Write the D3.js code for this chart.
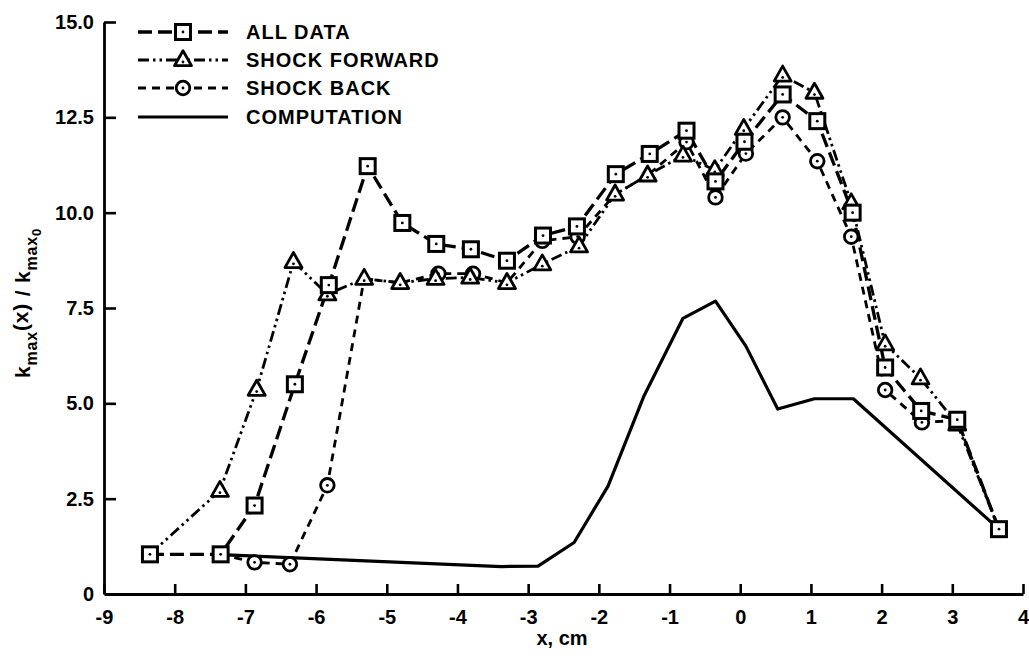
<!DOCTYPE html>
<html>
<head>
<meta charset="utf-8">
<script src="https://cdn.jsdelivr.net/npm/d3@7"></script>
<style>
  html, body { margin: 0; padding: 0; background: #fff; }
  svg { display: block; font-family: "Liberation Sans", Arial, Helvetica, sans-serif; font-weight: bold; }
</style>
</head>
<body>
<svg id="chart" width="1029" height="656"></svg>
<script>
// Normalised maximum turbulent kinetic energy along the model, cm
const allDataX = [-8.35, -7.35, -6.87, -6.30, -5.82, -5.27, -4.78, -4.30, -3.81, -3.30, -2.79, -2.31,
                  -1.76, -1.28, -0.76, -0.35, 0.06, 0.60, 1.09, 1.59, 2.05, 2.56, 3.07, 3.66];
const allDataY = [1.04, 1.04, 2.32, 5.50, 8.10, 11.22, 9.73, 9.18, 9.04, 8.74, 9.40, 9.64,
                  11.01, 11.54, 12.15, 10.82, 11.86, 13.10, 12.40, 10.00, 5.94, 4.80, 4.57, 1.70];

const shockFwdX = [-8.35, -7.36, -6.84, -6.32, -5.84, -5.32, -4.81, -4.31, -3.82, -3.30, -2.80, -2.28,
                   -1.77, -1.31, -0.81, -0.36, 0.05, 0.60, 1.05, 1.57, 2.05, 2.55, 3.07, 3.66];
const shockFwdY = [1.04, 2.71, 5.36, 8.71, 7.86, 8.27, 8.16, 8.27, 8.30, 8.16, 8.65, 9.12,
                   10.48, 10.98, 11.50, 11.12, 12.20, 13.60, 13.15, 10.25, 6.55, 5.66, 4.45, 1.70];
// first and last readings are shared with the full data set
const shockFwdMarked = [false, true, true, true, true, true, true, true, true, true, true, true,
                        true, true, true, true, true, true, true, true, true, true, true, false];

const shockBackX = [-7.35, -6.87, -6.37, -5.84, -5.32, -4.81, -4.27, -3.78, -3.30, -2.80, -2.30,
                    -1.77, -1.31, -0.76, -0.35, 0.08, 0.60, 1.09, 1.57, 2.05, 2.57, 3.07, 3.66];
const shockBackY = [1.04, 0.83, 0.78, 2.85, 8.27, 8.16, 8.40, 8.40, 8.16, 9.26, 9.37,
                    10.48, 10.98, 11.85, 10.40, 11.55, 12.50, 11.35, 9.37, 5.35, 4.50, 4.55, 1.70];
const shockBackMarked = [false, true, true, true, false, false, true, true, false, true, true,
                         false, false, true, true, true, true, true, true, true, true, false, false];

const computationX = [-7.35, -3.38, -2.86, -2.35, -1.87, -1.36, -0.81, -0.35, 0.08, 0.53, 1.05, 1.60, 3.66];
const computationY = [1.03, 0.72, 0.73, 1.35, 2.83, 5.20, 7.23, 7.68, 6.50, 4.85, 5.12, 5.12, 1.70];

const xTicks = [-9, -8, -7, -6, -5, -4, -3, -2, -1, 0, 1, 2, 3, 4];
const xTickLabels = ["-9", "-8", "-7", "-6", "-5", "-4", "-3", "-2", "-1", "0", "1", "2", "3", "4"];
const yTicks = [0, 2.5, 5, 7.5, 10, 12.5, 15];
const yTickLabels = ["0", "2.5", "5.0", "7.5", "10.0", "12.5", "15.0"];
const seriesNames = ["ALL DATA", "SHOCK FORWARD", "SHOCK BACK", "COMPUTATION"];

const zip = (xs, ys) => xs.map((x, i) => ({ x, y: ys[i], i }));

const svg = d3.select("#chart");
const plot = { left: 104, right: 1023, top: 22, bottom: 594 };

const x = d3.scaleLinear().domain([-9, 4]).range([plot.left, plot.right]);
const y = d3.scaleLinear().domain([0, 15]).range([plot.bottom, plot.top]);

svg.append("rect").attr("width", 1029).attr("height", 656).attr("fill", "#fff");

// ---- axes ----
const xAxis = d3.axisBottom(x).tickValues(xTicks)
  .tickFormat((d, i) => xTickLabels[i]).tickSizeInner(-10).tickSizeOuter(0).tickPadding(16);
const gx = svg.append("g").attr("transform", `translate(0,${plot.bottom})`).call(xAxis);
gx.select(".domain").attr("stroke", "#000").attr("stroke-width", 2.8);
gx.selectAll(".tick line").attr("stroke", "#000").attr("stroke-width", 2.6);
gx.selectAll(".tick text").attr("fill", "#000").attr("font-size", 20).attr("font-weight", "bold")
  .attr("font-family", "Liberation Sans, Arial, sans-serif");

const yAxis = d3.axisLeft(y).tickValues(yTicks)
  .tickFormat((d, i) => yTickLabels[i]).tickSizeInner(-12).tickSizeOuter(0).tickPadding(10);
const gy = svg.append("g").attr("transform", `translate(${plot.left},0)`).call(yAxis);
gy.select(".domain").attr("stroke", "#000").attr("stroke-width", 2.8);
gy.selectAll(".tick line").attr("stroke", "#000").attr("stroke-width", 2.6);
gy.selectAll(".tick text").attr("fill", "#000").attr("font-size", 20).attr("font-weight", "bold")
  .attr("font-family", "Liberation Sans, Arial, sans-serif");
gy.selectAll(".tick").filter(d => d === 0).select("line").remove();

// axis titles
svg.append("text").attr("x", 562).attr("y", 645).attr("text-anchor", "middle")
  .attr("font-size", 20).text("x, cm");

const yTitle = svg.append("text")
  .attr("transform", "translate(30,303) rotate(-90)")
  .attr("text-anchor", "middle").attr("font-size", 21).attr("letter-spacing", 0.8);
yTitle.append("tspan").text("k");
yTitle.append("tspan").attr("font-size", 16).attr("dy", 7).text("max");
yTitle.append("tspan").attr("dy", -9).text("(x)");
yTitle.append("tspan").attr("dy", 2).text(" / k");
yTitle.append("tspan").attr("font-size", 16).attr("dy", 7).text("max");
yTitle.append("tspan").attr("font-size", 13).attr("dy", 4).text("0");

// ---- series styles ----
const styles = {
  all:  { dash: "14,6", width: 3.3 },
  fwd:  { dash: "11,4,2.5,4,2.5,4", width: 2.8 },
  back: { dash: "8,6", width: 2.8 },
  comp: { dash: null, width: 3.2 }
};

const line = d3.line().x(d => x(d.x)).y(d => y(d.y));
const lines = svg.append("g").attr("fill", "none").attr("stroke", "#000")
  .attr("stroke-linejoin", "round");

function drawLine(data, st) {
  const p = lines.append("path").datum(data).attr("d", line).attr("stroke-width", st.width);
  if (st.dash) p.attr("stroke-dasharray", st.dash);
}
drawLine(zip(computationX, computationY), styles.comp);
drawLine(zip(shockBackX, shockBackY), styles.back);
drawLine(zip(shockFwdX, shockFwdY), styles.fwd);
drawLine(zip(allDataX, allDataY), styles.all);

// ---- markers ----
const markers = svg.append("g");

function circleMark(g, cx, cy) {
  g.append("circle").attr("cx", cx).attr("cy", cy).attr("r", 6.8)
    .attr("fill", "#fff").attr("stroke", "#000").attr("stroke-width", 2.8);
  g.append("circle").attr("cx", cx).attr("cy", cy).attr("r", 1.4).attr("fill", "#000");
}
function triMark(g, cx, cy) {
  const h = 15, w = 17;
  g.append("path")
    .attr("d", `M${cx},${cy - h * 0.62}L${cx + w / 2},${cy + h * 0.38}L${cx - w / 2},${cy + h * 0.38}Z`)
    .attr("fill", "#fff").attr("stroke", "#000").attr("stroke-width", 2.8).attr("stroke-linejoin", "round");
  g.append("circle").attr("cx", cx).attr("cy", cy + 2).attr("r", 1.4).attr("fill", "#000");
}
function squareMark(g, cx, cy) {
  const s = 15;
  g.append("rect").attr("x", cx - s / 2).attr("y", cy - s / 2).attr("width", s).attr("height", s)
    .attr("fill", "#fff").attr("stroke", "#000").attr("stroke-width", 3);
  g.append("circle").attr("cx", cx).attr("cy", cy).attr("r", 1.4).attr("fill", "#000");
}

zip(shockBackX, shockBackY).filter(d => shockBackMarked[d.i])
  .forEach(d => circleMark(markers, x(d.x), y(d.y)));
zip(shockFwdX, shockFwdY).filter(d => shockFwdMarked[d.i])
  .forEach(d => triMark(markers, x(d.x), y(d.y)));
zip(allDataX, allDataY).forEach(d => squareMark(markers, x(d.x), y(d.y)));

// ---- legend ----
const legend = svg.append("g");
const legendRows = [32, 60, 88, 117];
const legendStyles = [styles.all, styles.fwd, styles.back, styles.comp];
const legendMarks = [squareMark, triMark, circleMark, null];
seriesNames.forEach((name, i) => {
  const ly = legendRows[i];
  const st = legendStyles[i];
  const l = legend.append("line").attr("x1", 138).attr("x2", 228).attr("y1", ly).attr("y2", ly)
    .attr("stroke", "#000").attr("stroke-width", st.width);
  if (st.dash) l.attr("stroke-dasharray", st.dash);
  if (legendMarks[i]) legendMarks[i](legend, 183, ly);
  legend.append("text").attr("x", 246).attr("y", ly + 7).attr("font-size", 20)
    .attr("letter-spacing", 1).text(name);
});
</script>
</body>
</html>
